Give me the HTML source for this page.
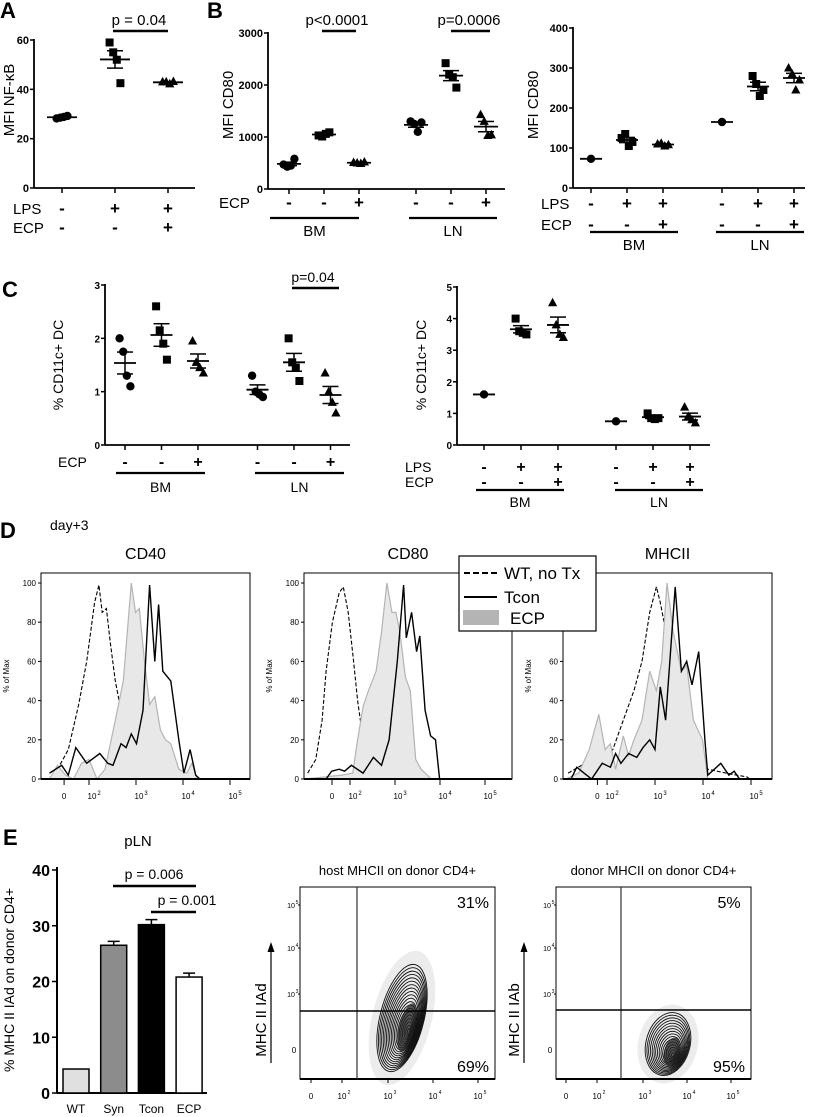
<!DOCTYPE html>
<html><head><meta charset="utf-8"><style>
html,body{margin:0;padding:0;background:#fff}
svg{display:block}
text{font-family:"Liberation Sans",Arial,sans-serif;fill:#000}
</style></head><body>
<svg id="fig" width="815" height="1117" viewBox="0 0 815 1117" xmlns="http://www.w3.org/2000/svg"></svg>
<script>
// ---------- DATA ----------
const aGroups = [[28.2,28.5,28.8,29.2],[59,55,52,42.5],[43,43,42.2,43.2]];
const aTicks = [0,20,40,60];
const bLeftGroups = [[470,430,450,580],[1030,1010,1060,1090],[510,500,490,520],[1300,1250,1100,1280],[2420,2200,2150,1950],[1430,1300,1030,1040]];
const bLeftTicks = [0,1000,2000,3000];
const bRightGroups = [[73],[125,135,105,115],[110,112,105,108],[165],[280,260,230,245],[300,285,245,270]];
const bRightTicks = [0,100,200,300,400];
const cLeftGroups = [[2.0,1.75,1.3,1.1],[2.6,2.15,1.9,1.6],[1.95,1.55,1.45,1.35],[1.3,1.0,0.95,0.9],[2.0,1.55,1.45,1.2],[1.35,1.0,0.8,0.6]];
const cLeftTicks = [0,1,2,3];
const cRightGroups = [[1.6],[4.0,3.6,3.55,3.5],[4.5,3.8,3.5,3.4],[0.75],[1.0,0.85,0.82,0.85],[1.2,0.9,0.8,0.7]];
const cRightTicks = [0,1,2,3,4,5];
const lpsRow = ['-','+','+'];
const ecpRow = ['-','-','+'];
const ecpOnlyRow = ['-','-','+'];
const histYTicks = [0,20,40,60,80,100];
const cd40WT = [[1.16,0],[1.4,8],[1.56,15],[1.78,38],[1.95,60],[2.12,90],[2.21,99],[2.28,85],[2.37,87],[2.45,70],[2.56,50],[2.68,35],[2.76,2]];
const cd40ECP = [[1.16,0],[1.33,7],[1.5,2],[1.67,0],[1.84,8],[2.0,10],[2.17,0],[2.34,5],[2.56,30],[2.73,50],[2.9,100],[2.99,85],[3.07,87],[3.18,60],[3.29,38],[3.4,42],[3.52,25],[3.63,20],[3.74,18],[3.91,5],[4.08,3],[4.19,8],[4.3,0]];
const cd40Tcon = [[1.16,3],[1.42,7],[1.56,2],[1.72,16],[1.95,8],[2.06,10],[2.23,13],[2.4,8],[2.51,7],[2.68,18],[2.79,16],[2.9,23],[3.01,18],[3.15,35],[3.29,99],[3.4,60],[3.48,89],[3.57,55],[3.74,50],[3.91,20],[4.02,3],[4.15,15],[4.27,2],[4.36,0]];
const cd80WT = [[1.06,3],[1.24,10],[1.38,30],[1.47,55],[1.61,80],[1.76,95],[1.85,98],[1.96,85],[2.08,60],[2.17,40],[2.29,20],[2.35,0]];
const cd80ECP = [[1.0,0],[1.82,2],[2.06,3],[2.17,20],[2.29,37],[2.41,45],[2.58,55],[2.7,75],[2.82,100],[2.93,85],[3.02,85],[3.11,75],[3.23,52],[3.34,45],[3.46,10],[3.58,5],[3.81,0]];
const cd80Tcon = [[1.47,0],[1.59,4],[1.76,5],[1.88,4],[2.03,7],[2.29,3],[2.52,11],[2.7,7],[2.87,20],[3.05,60],[3.19,99],[3.25,72],[3.37,85],[3.48,65],[3.55,73],[3.67,35],[3.79,22],[3.9,20],[3.99,0]];
const mhcWT = [[1.19,3],[1.47,7],[1.85,10],[2.12,15],[2.34,30],[2.56,45],[2.73,60],[2.89,85],[3.03,98],[3.11,90],[3.19,80],[3.33,60],[3.5,45],[3.71,30],[3.93,10],[4.1,5],[4.48,3],[4.92,1],[4.97,0]];
const mhcECP = [[1.14,0],[1.41,3],[1.63,15],[1.83,33],[1.96,15],[2.07,18],[2.18,5],[2.34,22],[2.45,12],[2.56,20],[2.73,30],[2.89,55],[3.03,45],[3.14,60],[3.25,100],[3.38,75],[3.55,55],[3.66,58],[3.8,30],[3.99,20],[4.1,0]];
const mhcTcon = [[1.25,0],[1.37,6],[1.52,3],[1.68,0],[1.9,8],[2.07,6],[2.18,13],[2.29,8],[2.45,13],[2.62,11],[2.75,16],[2.89,20],[3.0,15],[3.11,47],[3.22,30],[3.42,98],[3.55,55],[3.66,60],[3.77,48],[3.91,65],[4.04,20],[4.1,2],[4.37,8],[4.54,2],[4.65,4],[4.76,0]];
const barCats = ['WT','Syn','Tcon','ECP'];
const barVals = [4.3,26.5,30.2,20.8];
const barErr = [0,0.7,0.9,0.7];
const barTicks = [0,10,20,30,40];
const flowPct1 = ['31%','69%'];
const flowPct2 = ['5%','95%'];

// ---------- HELPERS ----------
const NS='http://www.w3.org/2000/svg';
const svg=document.getElementById('fig');
function mk(tag,attrs,parent,txt){const e=document.createElementNS(NS,tag);for(const k in attrs)e.setAttribute(k,attrs[k]);if(txt!==undefined)e.textContent=txt;(parent||svg).appendChild(e);return e;}
function line(x1,y1,x2,y2,w,p,col){return mk('line',{x1,y1,x2,y2,stroke:col||'#000','stroke-width':w||1},p);}
function txt(x,y,s,size,p,opts){opts=opts||{};return mk('text',{x,y,'font-size':size,'text-anchor':opts.anchor||'middle','font-weight':opts.bold?'bold':'normal',transform:opts.rot?`rotate(-90 ${x} ${y})`:''},p,s);}
function marker(type,x,y,p){
  let e;
  if(type==='c') e=mk('circle',{cx:x,cy:y,r:4.2,fill:'#000'},p);
  else if(type==='s') e=mk('rect',{x:x-4,y:y-4,width:8,height:8,fill:'#000'},p);
  else e=mk('polygon',{points:`${x},${y-5} ${x-4.6},${y+3.5} ${x+4.6},${y+3.5}`,fill:'#000'},p);
  
  
}
function dotPlot(cfg){
  const g=mk('g',{});
  
  
  const ymax=cfg.ticks[cfg.ticks.length-1];
  const ys=v=>cfg.y0-(v/ymax)*(cfg.y0-cfg.yTop);
  const xs=i=>cfg.x0+i*cfg.step+(i>=3?cfg.gap:0);
  line(cfg.ax,cfg.yTop-1,cfg.ax,cfg.y0,1.8,g);
  line(cfg.ax,cfg.y0,cfg.xEnd,cfg.y0,1.8,g);
  cfg.ticks.forEach(t=>{line(cfg.ax-4,ys(t),cfg.ax,ys(t),1.5,g);
    const tl=txt(cfg.ax-5,ys(t)+4,String(t),cfg.tickSize,g,{anchor:'end',bold:true});
    });
  cfg.groups.forEach((vals,i)=>{
    const x=xs(i);
    line(x,cfg.y0,x,cfg.y0+5,1.5,g);
    const n=vals.length;const m=vals.reduce((a,b)=>a+b,0)/n;
    const sd=n>1?Math.sqrt(vals.reduce((a,b)=>a+(b-m)*(b-m),0)/(n-1)):0;const se=sd/Math.sqrt(n);
    const off=[-6,-2,2,6];
    vals.forEach((v,j)=>marker(cfg.markers[i],x+(n>1?off[j]*0.9:0),ys(v),g));
    line(x-cfg.mw/2,ys(m),x+cfg.mw/2,ys(m),1.8,g);
    if(n>1){line(x-8,ys(m+se),x+8,ys(m+se),1.5,g);line(x-8,ys(m-se),x+8,ys(m-se),1.5,g);line(x,ys(m+se),x,ys(m-se),1.5,g);}
  });
  const ytl=txt(cfg.ytX,cfg.ytY,cfg.ytitle,cfg.ytSize,g,{rot:true});
  
  (cfg.rows||[]).forEach(r=>{
    txt(cfg.rowLabelX,r.y,r.label,cfg.rowSize,g,{anchor:'start'});
    cfg.groups.forEach((_,i)=>{txt(xs(i),r.y,r.vals[i%3],cfg.rowSize+2,g,{bold:true});});
  });
  (cfg.sigs||[]).forEach(s=>{line(s.x1,s.y,s.x2,s.y,2.5,g);txt(s.tx,s.ty,s.label,s.size,g);});
  return g;
}
function letter(s,x,y){const t=txt(x,y,s,22,null,{anchor:'start',bold:true});}

// ---------- PANEL A, B, C ----------
letter('A',0,18);letter('B',207,18);letter('C',2,297);
dotPlot({name:'panel-a-nfkb',groups:aGroups,ticks:aTicks,markers:['c','s','t'],ax:34,y0:188,yTop:40,xEnd:195,x0:62,step:53,gap:0,mw:30,tickSize:11,ytitle:'MFI NF-κB',ytX:14,ytY:100,ytSize:15,rowLabelX:13,rowSize:15,
  rows:[{label:'LPS',y:214,vals:lpsRow},{label:'ECP',y:233,vals:ecpRow}],
  sigs:[{x1:113,x2:168,y:31,tx:139,ty:25,label:'p = 0.04',size:15}]});
dotPlot({name:'panel-b-cd80-left',groups:bLeftGroups,ticks:bLeftTicks,markers:['c','s','t','c','s','t'],ax:268,y0:189,yTop:33,xEnd:505,x0:289,step:35,gap:22,mw:24,tickSize:11,ytitle:'MFI CD80',ytX:233,ytY:105,ytSize:15,rowLabelX:219,rowSize:15,
  rows:[{label:'ECP',y:208,vals:ecpOnlyRow}],
  sigs:[{x1:322,x2:356,y:31,tx:337,ty:25,label:'p<0.0001',size:15},{x1:451,x2:490,y:31,tx:469,ty:25,label:'p=0.0006',size:15}]});
dotPlot({name:'panel-b-cd80-right',groups:bRightGroups,ticks:bRightTicks,markers:['c','s','t','c','s','t'],ax:573,y0:188,yTop:28,xEnd:805,x0:591,step:36,gap:23,mw:22,tickSize:11,ytitle:'MFI CD80',ytX:538,ytY:105,ytSize:15,rowLabelX:541,rowSize:15,
  rows:[{label:'LPS',y:209,vals:lpsRow},{label:'ECP',y:230,vals:ecpRow}]});
dotPlot({name:'panel-c-dc-left',groups:cLeftGroups,ticks:cLeftTicks,markers:['c','s','t','c','s','t'],ax:105,y0:445,yTop:285,xEnd:350,x0:125,step:36.5,gap:23,mw:22,tickSize:10,ytitle:'% CD11c+ DC',ytX:63,ytY:365,ytSize:14,rowLabelX:58,rowSize:14,
  rows:[{label:'ECP',y:467,vals:ecpOnlyRow}],
  sigs:[{x1:292,x2:339,y:288,tx:313,ty:282,label:'p=0.04',size:14}]});
dotPlot({name:'panel-c-dc-right',groups:cRightGroups,ticks:cRightTicks,markers:['c','s','t','c','s','t'],ax:457,y0:445,yTop:287,xEnd:710,x0:484,step:37,gap:21,mw:22,tickSize:10,ytitle:'% CD11c+ DC',ytX:426,ytY:365,ytSize:14,rowLabelX:405,rowSize:14,
  rows:[{label:'LPS',y:472,vals:lpsRow},{label:'ECP',y:487,vals:ecpRow}]});
// group underlines
[[270,359,'BM'],[409,497,'LN']].forEach(([a,b,l])=>{line(a,218,b,218,2.2);txt((a+b)/2,236,l,15);});
[[590,678,'BM'],[716,804,'LN']].forEach(([a,b,l])=>{line(a,232,b,232,2.2);txt((a+b)/2,250,l,15);});
[[116,205,'BM'],[255,344,'LN']].forEach(([a,b,l])=>{line(a,473,b,473,2.2);txt((a+b)/2,492,l,14);});
[[476,564,'BM'],[615,703,'LN']].forEach(([a,b,l])=>{line(a,490,b,490,2.2);txt((a+b)/2,507,l,14);});

// ---------- PANEL D ----------
letter('D',0,538);
txt(50,530,'day+3',14,null,{anchor:'start'});
function hist(cfg){
  const g=mk('g',{});
  
  
  const xs=c=>cfg.ref+ (c-cfg.refC)*cfg.dec;
  const ys=v=>779-v*1.96;
  mk('rect',{x:cfg.bx,y:573,width:cfg.bw,height:206,fill:'none',stroke:'#000','stroke-width':1},g);
  const pts=a=>a.map(p=>xs(p[0]).toFixed(1)+','+ys(p[1]).toFixed(1)).join(' ');
  const wt=mk('polyline',{points:pts(cfg.wt),fill:'none',stroke:'#000','stroke-width':1.1,'stroke-dasharray':'4,2'},g);
  
  const fill=mk('polygon',{points:pts(cfg.ecp)+` ${xs(cfg.ecp[cfg.ecp.length-1][0])},779 ${xs(cfg.ecp[0][0])},779`,fill:'#e8e8e8',stroke:'#b4b4b4','stroke-width':1.2},g);
  
  const tc=mk('polyline',{points:pts(cfg.tcon),fill:'none',stroke:'#000','stroke-width':1.4},g);
  
  line(cfg.bx,779,cfg.bx+cfg.bw,779,2,g);
  histYTicks.forEach(t=>{line(cfg.bx-3,ys(t),cfg.bx,ys(t),1,g);txt(cfg.bx-5,ys(t)+3,String(t),8,g,{anchor:'end'});});
  for(let d=2;d<=5;d++){line(xs(d),779,xs(d),785,1,g);txt(xs(d)+3,799,'10',8,g);txt(xs(d)+10,795,String(d),6,g);}
  line(xs(cfg.zeroC),779,xs(cfg.zeroC),785,1,g);txt(xs(cfg.zeroC),799,'0',8,g);
  txt(cfg.bx-32,676,'% of Max',8,g,{rot:true});
  txt(cfg.bx+cfg.bw/2,559,cfg.title,16,g);
  return g;
}
hist({name:'histogram-cd40',title:'CD40',bx:41,bw:209,ref:136,refC:3,dec:47,zeroC:1.47,wt:cd40WT,ecp:cd40ECP,tcon:cd40Tcon});
hist({name:'histogram-cd80',title:'CD80',bx:304,bw:208,ref:395,refC:3,dec:45,zeroC:1.6,wt:cd80WT,ecp:cd80ECP,tcon:cd80Tcon});
hist({name:'histogram-mhcii',title:'MHCII',bx:563,bw:209,ref:655,refC:3,dec:48,zeroC:1.8,wt:mhcWT,ecp:mhcECP,tcon:mhcTcon});
// legend
const lg=mk('g',{});


mk('rect',{x:459,y:556,width:137,height:75,fill:'#fff',stroke:'#000','stroke-width':1.2},lg);
line(464,573,497,573,2,lg).setAttribute('stroke-dasharray','6,3');
txt(504,579,'WT, no Tx',17,lg,{anchor:'start'});
line(464,597,497,597,2,lg);
txt(504,603,'Tcon',17,lg,{anchor:'start'});
mk('rect',{x:463,y:610,width:36,height:15,fill:'#b4b4b4'},lg);
txt(510,624,'ECP',17,lg,{anchor:'start'});

// ---------- PANEL E ----------
letter('E',3,845);
txt(138,846,'pLN',15);
const eg=mk('g',{});


const eY=v=>1093-v/40*223;
line(57,867,57,1093,2,eg);line(57,1093,207,1093,2,eg);
barTicks.forEach(t=>{line(52,eY(t),57,eY(t),1.5,eg);txt(50,eY(t)+6,String(t),16,eg,{anchor:'end',bold:true});});
const fills=['#e0e0e0','#8c8c8c','#000','#fff'];
barCats.forEach((c,i)=>{
  const x=63+i*37.7;
  const r=mk('rect',{x:x,y:eY(barVals[i]),width:26,height:1093-eY(barVals[i]),fill:fills[i],stroke:'#000','stroke-width':1.5},eg);
  
  
  if(barErr[i]>0){line(x+13,eY(barVals[i]),x+13,eY(barVals[i]+barErr[i]),1.5,eg);line(x+7,eY(barVals[i]+barErr[i]),x+19,eY(barVals[i]+barErr[i]),1.5,eg);}
  txt(x+13,1113,c,12,eg);
});
line(113,886,196,886,2.5,eg);txt(154,879,'p = 0.006',14,eg);
line(151,912,196,912,2.5,eg);txt(187,905,'p = 0.001',14,eg);
txt(14,980,'% MHC II IAd on donor CD4+',14,eg,{rot:true});

function flow(cfg){
  const g=mk('g',{});
  
  
  txt(cfg.bx+cfg.bw/2,875,cfg.title,13,g);
  mk('rect',{x:cfg.bx,y:887,width:cfg.bw,height:192,fill:'none',stroke:'#000','stroke-width':1},g);
  mk('ellipse',{cx:cfg.cx,cy:cfg.cy,rx:cfg.rx*1.35,ry:cfg.ry*1.25,fill:'#ececec',transform:`rotate(${cfg.rot} ${cfg.cx} ${cfg.cy})`},g);
  for(let k=0;k<cfg.n;k++){
    const f=1-k/cfg.n;
    mk('ellipse',{cx:cfg.cx+k*0.5,cy:cfg.cy+k*0.6,rx:(cfg.rx*f).toFixed(1),ry:(cfg.ry*f).toFixed(1),fill:'none',stroke:'#111','stroke-width':0.9,transform:`rotate(${cfg.rot} ${cfg.cx} ${cfg.cy})`},g);
  }
  mk('ellipse',{cx:cfg.cx+cfg.n*0.35,cy:cfg.cy+cfg.n*0.4,rx:cfg.rx*0.35,ry:cfg.ry*0.45,fill:'#222',opacity:0.75,transform:`rotate(${cfg.rot} ${cfg.cx} ${cfg.cy})`},g);
  line(cfg.bx,1079,cfg.bx+cfg.bw,1079,2,g);
  line(cfg.vx,887,cfg.vx,1079,1.2,g,'#333');
  line(cfg.bx,cfg.hy,cfg.bx+cfg.bw,cfg.hy,1.4,g);
  txt(cfg.bx+cfg.bw-22,908,cfg.pct[0],16,g);
  txt(cfg.bx+cfg.bw-22,1072,cfg.pct[1],16,g);
  [[905,'5'],[948,'4'],[994,'3']].forEach(([y,e])=>{txt(cfg.bx-9,y+3,'10',7,g);txt(cfg.bx-3,y-1,e,5,g);line(cfg.bx-2,y,cfg.bx,y,1,g);});
  txt(cfg.bx-6,1053,'0',8,g);
  cfg.xt.forEach((x,i)=>{ if(i===0) txt(x,1099,'0',8,g); else {txt(x,1099,'10',8,g);txt(x+7,1094,String(i+1),5,g);} line(x,1079,x,1083,1,g);});
  txt(cfg.tx,1020,cfg.ylab,15,g,{rot:true});
  line(cfg.tx+5,1063,cfg.tx+5,950,1.2,g);
  mk('polygon',{points:`${cfg.tx+5},942 ${cfg.tx+1.5},952 ${cfg.tx+8.5},952`,fill:'#000'},g);
}
flow({name:'flow-host-mhcii',title:'host MHCII on donor CD4+',bx:300,bw:195,vx:357,hy:1011,cx:402,cy:1018,rx:22,ry:55,rot:14,n:20,pct:flowPct1,xt:[311,342,388,433,478],tx:266,ylab:'MHC II IAd'});
flow({name:'flow-donor-mhcii',title:'donor MHCII on donor CD4+',bx:556,bw:195,vx:621,hy:1010,cx:668,cy:1044,rx:22,ry:32,rot:15,n:16,pct:flowPct2,xt:[566,597,643,687,731],tx:519,ylab:'MHC II IAb'});
</script>
</body></html>
